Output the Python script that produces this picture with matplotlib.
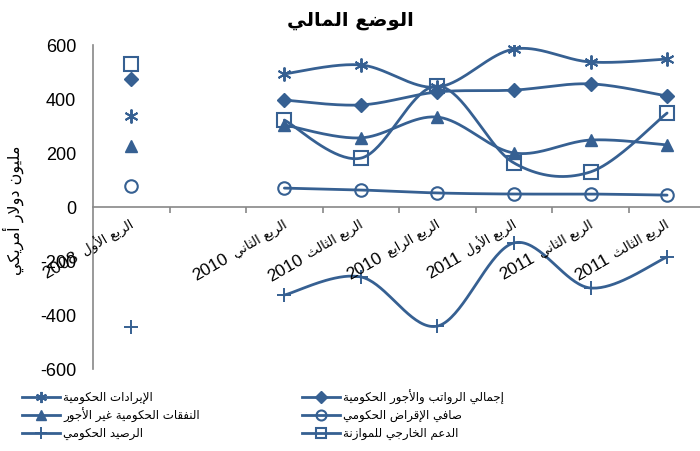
import re
import numpy as np
import matplotlib
matplotlib.use('Agg')
import matplotlib.pyplot as plt
from matplotlib.lines import Line2D

# data (second category slot is empty in the sheet)
categories = ['الربع الأول 2008', '', 'الربع الثاني 2010', 'الربع الثالث 2010',
              'الربع الرابع 2010', 'الربع الأول 2011', 'الربع الثاني 2011',
              'الربع الثالث 2011']

revenues = [337, None, 493, 526, 444, 585, 537, 548]
wages = [474, None, 396, 378, 426, 433, 456, 411]
non_wage = [226, None, 304, 256, 333, 200, 248, 230]
net_lending = [78, None, 70, 63, 52, 48, 48, 44]
balance = [-444, None, -326, -259, -441, -133, -300, -185]
ext_support = [530, None, 322, 181, 448, 163, 130, 348]

title = 'الوضع المالي'
ylabel = 'مليون دولار أمريكي'
yticks = [-600, -400, -200, 0, 200, 400, 600]

COLOR = '#366092'
GRAY = '#878787'

# --- minimal arabic shaping (matplotlib has no RTL / joining support) ---
_letters = 'ءآأؤإئابةتثجحخدذرزسشصضطظعغفقكلمنهوىي'
_right_only = set('آأؤإادذرزوىة')
_forms = {}
code = 0xFE80
for ch in _letters:
    n = 1 if ch == 'ء' else (2 if ch in _right_only else 4)
    _forms[ch] = [chr(code + k) for k in range(n)]
    code += n
_lamalef = {'آ': ('\uFEF5', '\uFEF6'), 'أ': ('\uFEF7', '\uFEF8'),
            'إ': ('\uFEF9', '\uFEFA'), 'ا': ('\uFEFB', '\uFEFC')}


def shape(text):
    units = []
    i = 0
    while i < len(text):
        c = text[i]
        if c == 'ل' and i + 1 < len(text) and text[i + 1] in _lamalef:
            units.append(('LA', text[i + 1]))
            i += 2
        else:
            units.append(('C', c))
            i += 1

    def is_ar(u):
        return u[0] == 'LA' or u[1] in _forms

    def dual(u):
        return u[0] == 'C' and u[1] in _forms and len(_forms[u[1]]) == 4

    out = []
    for k, u in enumerate(units):
        if not is_ar(u):
            out.append(u[1])
            continue
        prev = k > 0 and dual(units[k - 1])
        nxt = dual(u) and k + 1 < len(units) and is_ar(units[k + 1])
        if u[0] == 'LA':
            out.append(_lamalef[u[1]][1 if prev else 0])
            continue
        f = _forms[u[1]]
        if prev and nxt:
            out.append(f[3])
        elif nxt:
            out.append(f[2])
        elif prev:
            out.append(f[1])
        else:
            out.append(f[0])
    return ''.join(out)


def ar(text):
    runs = re.findall(r'\d+|\D+', shape(text))
    return ''.join(r if r.isdigit() else r[::-1] for r in reversed(runs))


def smooth(xs, ys, n=40):
    # excel-like smoothed line (bezier through points)
    px, py = [], []
    m = len(xs)
    t = np.linspace(0, 1, n)
    for k in range(m - 1):
        x0, y0 = (xs[k - 1], ys[k - 1]) if k > 0 else (xs[k], ys[k])
        x3, y3 = (xs[k + 2], ys[k + 2]) if k + 2 < m else (xs[k + 1], ys[k + 1])
        c1x = xs[k] + (xs[k + 1] - x0) / 6
        c1y = ys[k] + (ys[k + 1] - y0) / 6
        c2x = xs[k + 1] - (x3 - xs[k]) / 6
        c2y = ys[k + 1] - (y3 - ys[k]) / 6
        bx = (1 - t)**3 * xs[k] + 3 * (1 - t)**2 * t * c1x + 3 * (1 - t) * t**2 * c2x + t**3 * xs[k + 1]
        by = (1 - t)**3 * ys[k] + 3 * (1 - t)**2 * t * c1y + 3 * (1 - t) * t**2 * c2y + t**3 * ys[k + 1]
        px.extend(bx)
        py.extend(by)
    return px, py


series = [
    ('إجمالي الرواتب والأجور الحكومية', wages, dict(marker='D', ms=7.5)),
    ('الإيرادات الحكومية', revenues, dict(marker=(6, 2, 0), ms=10, mew=1.4)),
    ('صافي الإقراض الحكومي', net_lending, dict(marker='o', ms=9, mfc='none', mew=1.5)),
    ('النفقات الحكومية غير الأجور', non_wage, dict(marker='^', ms=8.5)),
    ('الدعم الخارجي للموازنة', ext_support, dict(marker='s', ms=9.5, mfc='none', mew=1.5)),
    ('الرصيد الحكومي', balance, dict(marker='+', ms=10, mew=1.4)),
]

fig = plt.figure(figsize=(7, 4.51), dpi=100)
ax = fig.add_axes([93 / 700, 1 - 369 / 451, 1 - 93 / 700, (369 - 45) / 451])

for name, vals, mk in series:
    # contiguous runs of values get a smoothed line
    run = []
    for i, v in enumerate(vals + [None]):
        if v is None:
            if len(run) > 1:
                sx, sy = smooth([r[0] for r in run], [r[1] for r in run])
                ax.plot(sx, sy, color=COLOR, lw=2.0, solid_capstyle='round', zorder=2)
            run = []
        else:
            run.append((i, v))
    xs = [i for i, v in enumerate(vals) if v is not None]
    ys = [v for v in vals if v is not None]
    ax.plot(xs, ys, ls='none', color=COLOR, mec=COLOR, zorder=3, **mk)

ax.set_xlim(-0.5, 7.43)
ax.set_ylim(-600, 600)
ax.set_yticks(yticks)
ax.set_yticklabels([str(v) for v in yticks], fontsize=13, family='Liberation Sans')
ax.tick_params(axis='y', length=0, pad=12)

ax.spines['top'].set_visible(False)
ax.spines['right'].set_visible(False)
ax.spines['left'].set_color(GRAY)
ax.spines['left'].set_linewidth(1.2)
ax.spines['bottom'].set_position(('data', 0))
ax.spines['bottom'].set_color(GRAY)
ax.spines['bottom'].set_linewidth(1.2)
ax.set_xticks(np.arange(0.5, 7.5, 1))
ax.set_xticklabels([])
ax.tick_params(axis='x', length=4, width=1.2, color=GRAY, direction='out')

# category labels: arabic words (smaller) then the year (larger), rotated 30 deg
renderer = fig.canvas.get_renderer()
ang = np.deg2rad(30)
for i, lab in enumerate(categories):
    if not lab:
        continue
    words, year = lab.rsplit(' ', 1)
    ax.text(i + 0.02, -62, ar(words), rotation=30, rotation_mode='anchor',
            ha='right', va='center', fontsize=9.5, family=['DejaVu Sans'])
    tmp = ax.text(0, 0, ar(words), fontsize=9.5, family=['DejaVu Sans'])
    w = tmp.get_window_extent(renderer).width + 7
    tmp.remove()
    px, py = ax.transData.transform((i + 0.02, -62))
    px -= w * np.cos(ang)
    py -= w * np.sin(ang)
    dx, dy = ax.transData.inverted().transform((px, py))
    ax.text(dx, dy, year, rotation=30, rotation_mode='anchor',
            ha='right', va='center', fontsize=12.5, family=['Liberation Sans'])

fig.text(0.5, 1 - 21 / 451, ar(title), ha='center', va='center',
         fontsize=14, fontweight='bold', family=['DejaVu Sans'])
fig.text(13 / 700, 1 - 210 / 451, ar(ylabel), rotation=90, ha='center', va='center',
         fontsize=11.5, family=['DejaVu Sans'])

# legend, drawn by hand: two columns, three rows
cols = [22, 302]
rows = [397, 415, 433]
order = [1, 3, 5, 0, 2, 4]
for k, idx in enumerate(order):
    name, vals, mk = series[idx]
    x0 = cols[k // 3]
    y = 1 - rows[k % 3] / 451
    fig.add_artist(Line2D([x0 / 700, (x0 + 38) / 700], [y, y], color=COLOR, lw=2.0,
                          transform=fig.transFigure))
    mk2 = dict(mk)
    mk2['ms'] = mk['ms'] * 0.8
    fig.add_artist(Line2D([(x0 + 19) / 700], [y], ls='none', color=COLOR, mec=COLOR,
                          transform=fig.transFigure, **mk2))
    fig.text((x0 + 41) / 700, y, ar(name), ha='left', va='center', fontsize=8.5,
             family=['DejaVu Sans'])

fig.savefig('out.png', dpi=100)
